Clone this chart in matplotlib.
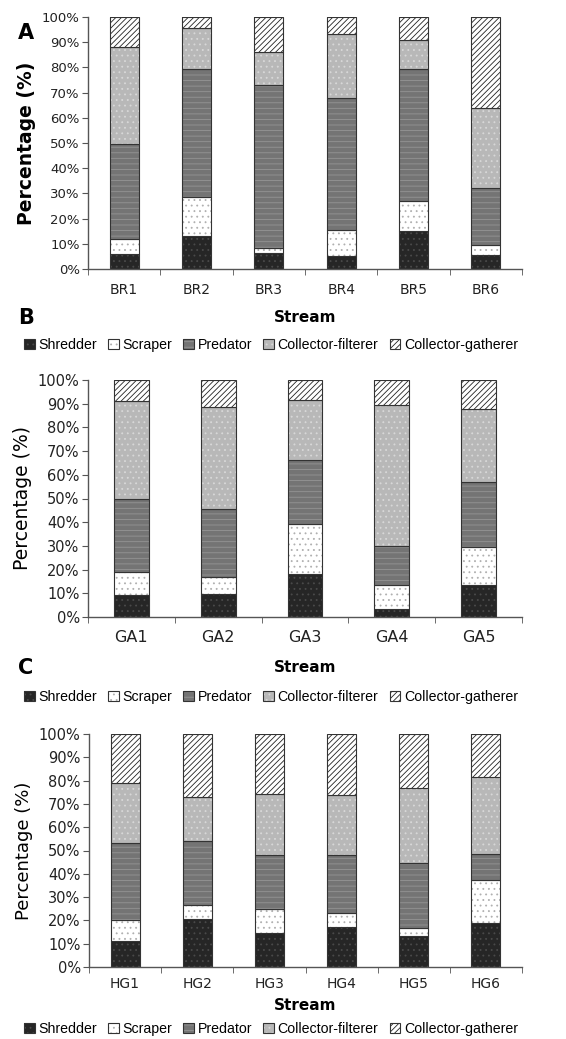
import matplotlib
matplotlib.use("Agg")
import matplotlib.pyplot as plt
from matplotlib.patches import Patch
import numpy as np

plt.rcParams['font.family'] = ['DejaVu Sans']
plt.rcParams['hatch.linewidth'] = 0.6

groups = ['Shredder', 'Scraper', 'Predator', 'Collector-filterer', 'Collector-gatherer']

# percentage of each feeding group per stream (reading from the figure)
br_streams = ['BR1', 'BR2', 'BR3', 'BR4', 'BR5', 'BR6']
br_shredder = [6.0, 13.0, 6.3, 5.0, 14.9, 5.7]
br_scraper = [6.0, 15.5, 2.0, 10.6, 12.1, 3.9]
br_predator = [37.5, 50.7, 64.9, 52.1, 52.2, 22.7]
br_filterer = [38.5, 16.4, 12.8, 25.7, 11.6, 31.4]
br_gatherer = [12.0, 4.4, 14.0, 6.6, 9.2, 36.3]

ga_streams = ['GA1', 'GA2', 'GA3', 'GA4', 'GA5']
ga_shredder = [9.2, 9.9, 18.3, 3.2, 13.4]
ga_scraper = [9.8, 7.0, 21.1, 10.5, 16.2]
ga_predator = [31.0, 28.6, 26.8, 16.2, 27.2]
ga_filterer = [41.1, 43.0, 25.3, 59.5, 30.9]
ga_gatherer = [8.9, 11.5, 8.5, 10.6, 12.3]

hg_streams = ['HG1', 'HG2', 'HG3', 'HG4', 'HG5', 'HG6']
hg_shredder = [11.2, 20.8, 14.6, 17.2, 13.2, 18.8]
hg_scraper = [8.9, 5.7, 10.5, 6.0, 3.4, 18.6]
hg_predator = [33.3, 27.5, 22.9, 24.8, 28.2, 11.2]
hg_filterer = [25.4, 19.0, 26.2, 26.0, 32.1, 33.1]
hg_gatherer = [21.2, 27.0, 25.8, 26.0, 23.1, 18.3]

# fill colour, hatch colour, hatch pattern per group
styles = [
    ('#262626', '#4a4a4a', '...'),
    ('#ffffff', '#b0b0b0', '...'),
    ('#747474', '#959595', '---'),
    ('#b8b8b8', '#d8d8d8', '...'),
    ('#ffffff', '#222222', '//////'),
]
outline = '#333333'

W, H = 566, 1039
fig = plt.figure(figsize=(W / 100, H / 100), dpi=100)


def axes_px(left, right, top, bottom):
    return fig.add_axes([left / W, 1 - bottom / H, (right - left) / W, (bottom - top) / H])


def stacked(ax, streams, series, tick_size, ylab_size, ylab_weight, cat_size, cat_pad):
    n = len(streams)
    x = np.arange(n) + 0.5
    bottom = np.zeros(n)
    for vals, (fc, hc, hatch) in zip(series, styles):
        vals = np.array(vals)
        ax.bar(x, vals, 0.4, bottom=bottom, color=fc, edgecolor=hc, hatch=hatch, linewidth=0)
        ax.bar(x, vals, 0.4, bottom=bottom, fill=False, edgecolor=outline, linewidth=0.8)
        bottom += vals
    ax.set_xlim(0, n)
    ax.set_ylim(0, 100)
    ax.set_yticks(np.arange(0, 101, 10))
    ax.set_yticklabels([f'{v}%' for v in range(0, 101, 10)], fontsize=tick_size, color='#222222')
    ax.set_xticks(x)
    ax.set_xticklabels(streams, fontsize=cat_size, color='#222222')
    ax.set_xticks(np.arange(n + 1), minor=True)
    ax.tick_params(axis='x', which='major', length=0, pad=cat_pad)
    ax.tick_params(axis='x', which='minor', length=4, color='#555555')
    ax.tick_params(axis='y', length=4, color='#555555', pad=2)
    for s in ['top', 'right']:
        ax.spines[s].set_visible(False)
    for s in ['left', 'bottom']:
        ax.spines[s].set_color('#555555')
        ax.spines[s].set_linewidth(1.0)
    ax.set_ylabel('Percentage (%)', fontsize=ylab_size, fontweight=ylab_weight, labelpad=4)


axA = axes_px(88, 522, 17, 269)
stacked(axA, br_streams, [br_shredder, br_scraper, br_predator, br_filterer, br_gatherer],
        9.5, 13.5, 'bold', 10, 10)
axB = axes_px(88, 522, 380, 617)
stacked(axB, ga_streams, [ga_shredder, ga_scraper, ga_predator, ga_filterer, ga_gatherer],
        10.5, 13.5, 'normal', 11.5, 9)
axC = axes_px(89, 522, 734, 967)
stacked(axC, hg_streams, [hg_shredder, hg_scraper, hg_predator, hg_filterer, hg_gatherer],
        10.5, 13, 'normal', 10, 7)

handles = []
for fc, hc, hatch in styles:
    handles.append((Patch(facecolor=fc, edgecolor=hc, hatch=hatch, linewidth=0),
                    Patch(fill=False, edgecolor=outline, linewidth=0.8)))

for ys in [317, 668, 1006]:
    fig.text(305 / W, 1 - ys / H, 'Stream', ha='center', va='center', fontsize=11, fontweight='bold')

for ys in [345, 697, 1029]:
    fig.legend(handles, groups, loc='center', bbox_to_anchor=(271 / W, 1 - ys / H),
               ncol=5, frameon=False, handlelength=0.75, handleheight=0.75,
               handletextpad=0.25, columnspacing=0.8, borderpad=0,
               prop={'family': ['Liberation Sans', 'DejaVu Sans'], 'size': 10.2})

for letter, ys in [('A', 33), ('B', 318), ('C', 668)]:
    fig.text(18 / W, 1 - ys / H, letter, ha='left', va='center', fontsize=15, fontweight='bold')

fig.savefig('out.png', dpi=100)
